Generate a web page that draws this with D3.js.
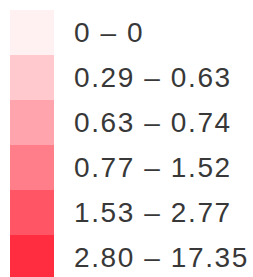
<!DOCTYPE html>
<html>
<head>
<meta charset="utf-8">
<script src="https://cdn.jsdelivr.net/npm/d3@7"></script>
<style>
  body { margin: 0; background: #fff; }
</style>
</head>
<body>
<div id="legend"></div>
<script>
const labels = ['0 – 0', '0.29 – 0.63', '0.63 – 0.74', '0.77 – 1.52', '1.53 – 2.77', '2.80 – 17.35']
const colors = ['#FFF0F2', '#FFC9CE', '#FFA4AC', '#FF7E89', '#FF5565', '#FF2D3F']

const width = 253
const height = 277
const marginTop = 10
const rowH = 45

const svg = d3.select('#legend')
    .append('svg')
    .attr('width', width)
    .attr('height', height)

// one band per legend row
const yScale = d3.scaleBand()
    .domain(d3.range(labels.length))
    .range([marginTop, marginTop + rowH * labels.length])

svg.selectAll('rect')
    .data(labels)
    .enter()
    .append('rect')
    .attr('x', 10)
    .attr('y', (d, i) => yScale(i))
    .attr('width', 44)
    .attr('height', yScale.bandwidth())
    .attr('fill', (d, i) => colors[i])

svg.selectAll('text')
    .data(labels)
    .enter()
    .append('text')
    .attr('x', 74)
    .attr('y', (d, i) => yScale(i) + yScale.bandwidth() / 2)
    .attr('dy', '0.35em')
    .attr('font-family', 'Liberation Sans, Arial, sans-serif')
    .attr('font-size', 28)
    .attr('letter-spacing', 1.6)
    .attr('fill', '#383838')
    .text(d => d)
</script>
</body>
</html>
